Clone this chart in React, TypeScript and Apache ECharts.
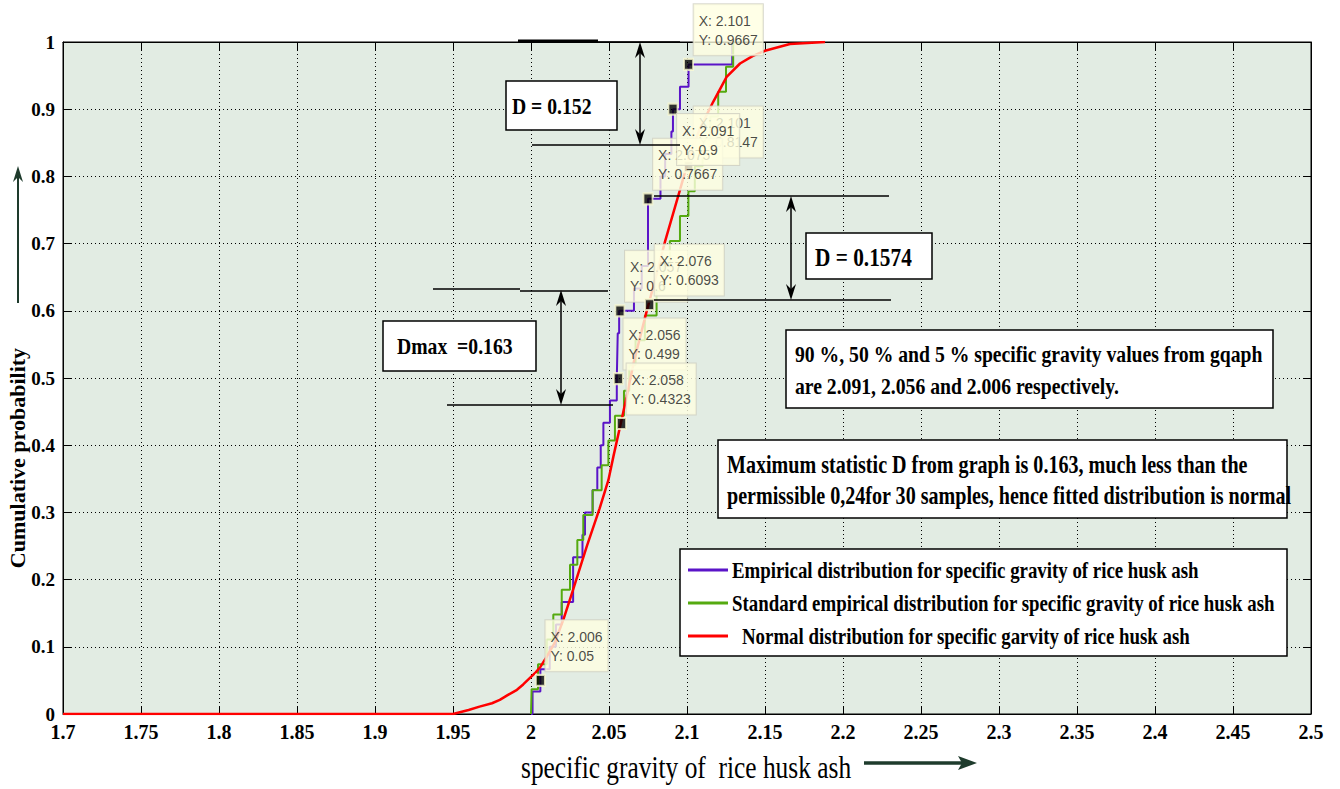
import React, { useEffect, useRef } from 'react';
import * as echarts from 'echarts';

// ---------- data ----------
const xTickLabels = ['1.7', '1.75', '1.8', '1.85', '1.9', '1.95', '2', '2.05', '2.1', '2.15', '2.2', '2.25', '2.3', '2.35', '2.4', '2.45', '2.5'];
const yTickLabels = ['0', '0.1', '0.2', '0.3', '0.4', '0.5', '0.6', '0.7', '0.8', '0.9', '1'];

const seriesNames = [
  'Empirical distribution for specific gravity of rice husk ash',
  'Standard empirical distribution for specific gravity of rice husk ash',
  'Normal distribution for specific garvity of rice husk ash',
];

// empirical CDF (30 samples)
const empiricalX = [2.0, 2.001, 2.006, 2.012, 2.016, 2.0197, 2.027, 2.027, 2.033, 2.0346, 2.0395, 2.0425, 2.0447, 2.0464, 2.0506, 2.055, 2.0553, 2.0556, 2.0565, 2.066, 2.071, 2.075, 2.075, 2.075, 2.083, 2.086, 2.09, 2.091, 2.0955, 2.101, 2.129];
const empiricalY = [0, 0.0333, 0.0667, 0.1, 0.1333, 0.1667, 0.2, 0.2333, 0.2667, 0.3, 0.3333, 0.3667, 0.4, 0.4333, 0.4667, 0.5, 0.5333, 0.5667, 0.6, 0.6333, 0.6667, 0.7, 0.7333, 0.7667, 0.8, 0.8333, 0.8667, 0.9, 0.9333, 0.9667, 1.0];

// standard empirical CDF
const standardX = [2.0, 2.0004, 2.0045, 2.01, 2.0143, 2.0197, 2.025, 2.0297, 2.0335, 2.0395, 2.0453, 2.0496, 2.0538, 2.0596, 2.063, 2.067, 2.073, 2.0805, 2.085, 2.089, 2.0955, 2.1009, 2.105, 2.11, 2.115, 2.12, 2.125, 2.1296];
const standardY = [0, 0.037, 0.074, 0.111, 0.148, 0.185, 0.222, 0.259, 0.296, 0.333, 0.37, 0.407, 0.444, 0.481, 0.519, 0.556, 0.593, 0.63, 0.667, 0.704, 0.741, 0.778, 0.815, 0.852, 0.889, 0.926, 0.963, 1.0];

// fitted normal CDF
const normalX = [1.7, 1.95, 1.96, 1.967, 1.975, 1.98, 1.985, 1.991, 1.995, 1.999, 2.003, 2.006, 2.01, 2.015, 2.0207, 2.027, 2.0357, 2.044, 2.0496, 2.0528, 2.058, 2.0613, 2.066, 2.074, 2.08, 2.0859, 2.0955, 2.101, 2.108, 2.1168, 2.1254, 2.134, 2.142, 2.15, 2.166, 2.1885];
const normalY = [0, 0, 0.006, 0.011, 0.016, 0.021, 0.028, 0.036, 0.044, 0.053, 0.062, 0.07, 0.085, 0.105, 0.14, 0.185, 0.249, 0.306, 0.348, 0.383, 0.437, 0.472, 0.525, 0.598, 0.65, 0.703, 0.78, 0.825, 0.87, 0.911, 0.948, 0.968, 0.979, 0.987, 0.997, 1.0];

// data tips (in drawing order, back to front)
const tipX = [2.101, 2.075, 2.091, 2.057, 2.076, 2.056, 2.058, 2.006, 2.101];
const tipY = [0.8147, 0.7667, 0.9, 0.6, 0.6093, 0.499, 0.4323, 0.05, 0.9667];

// ---------- styling ----------
const tipBelow = [false, false, true, false, false, false, false, false, false];
const SERIF = '"Liberation Serif", "Times New Roman", serif';
const SX = 0.82;
const PURPLE = '#5a14c8';
const GREEN = '#55aa10';
const RED = '#ff0000';

function buildOption() {
  const lineSeries = [
    {
      name: seriesNames[0], type: 'line', step: 'end', symbol: 'none', z: 3,
      data: empiricalX.map((x, i) => [x, empiricalY[i]]),
      lineStyle: { color: PURPLE, width: 2 },
    },
    {
      name: seriesNames[1], type: 'line', step: 'end', symbol: 'none', z: 4,
      data: standardX.map((x, i) => [x, standardY[i]]),
      lineStyle: { color: GREEN, width: 2 },
    },
    {
      name: seriesNames[2], type: 'line', symbol: 'none', z: 5,
      data: normalX.map((x, i) => [x, normalY[i]]),
      lineStyle: { color: RED, width: 2.5 },
    },
  ];

  const tipSeries = tipX.map((x, i) => ({
    name: 'tip' + i, type: 'scatter', z: 10 + i, silent: true,
    symbol: 'rect', symbolSize: [9, 11],
    itemStyle: { color: '#000', borderColor: '#fafad2', borderWidth: 2 },
    data: [[x, tipY[i]]],
    label: {
      show: true,
      position: tipBelow[i] ? [9.5, 11.5] : [10.5, -53.5],
      formatter: () => 'X: ' + String(x) + '\nY: ' + String(tipY[i]),
      backgroundColor: '#ffffe1', borderColor: '#cfcfc0', borderWidth: 1,
      padding: [7, 5, 6, 5], lineHeight: 19, fontSize: 14,
      fontFamily: '"Liberation Sans Narrow", "Liberation Sans", Arial, sans-serif',
      color: '#1a1a1a',
    },
  }));

  const txt = (text: string, x: number, y: number, size: number, extra: any = {}) => ({
    type: 'text', x, y, scaleX: SX, z: 62, silent: true,
    style: { text, fontFamily: SERIF, fontWeight: 'bold', fontSize: size, fill: '#000', align: 'left', verticalAlign: 'middle', ...extra },
  });
  const box = (x: number, y: number, w: number, h: number) => ({
    type: 'rect', z: 60, silent: true, shape: { x, y, width: w, height: h },
    style: { fill: '#fff', stroke: '#000', lineWidth: 1.5 },
  });
  const ln = (x1: number, y1: number, x2: number, y2: number, w = 1.5, c = '#000', z = 58) => ({
    type: 'line', z, silent: true, shape: { x1, y1, x2, y2 }, style: { stroke: c, lineWidth: w },
  });
  const headUp = (x: number, y: number, c = '#000') => ({
    type: 'polygon', z: 59, silent: true, shape: { points: [[x, y], [x - 5, y + 16], [x, y + 11], [x + 5, y + 16]] }, style: { fill: c },
  });
  const headDown = (x: number, y: number, c = '#000') => ({
    type: 'polygon', z: 59, silent: true, shape: { points: [[x, y], [x - 5, y - 16], [x, y - 11], [x + 5, y - 16]] }, style: { fill: c },
  });

  const elements: any[] = [
    // D = 0.152
    ln(518, 41, 598, 41, 3), ln(598, 42, 680, 42, 1.5), ln(532, 145, 680, 145, 1.5),
    ln(640, 50, 640, 137, 1.5), headUp(640, 42), headDown(640, 145),
    box(506, 81, 111, 49), txt('D = 0.152', 512, 106, 24),
    // D = 0.1574
    ln(654, 196, 889, 196, 1.5), ln(654, 300, 891, 300, 1.5),
    ln(791, 204, 791, 292, 1.5), headUp(791, 196), headDown(791, 300),
    box(806, 233, 126, 46), txt('D = 0.1574', 815, 257, 26),
    // Dmax = 0.163
    ln(433, 289, 520, 289, 1.5), ln(520, 291, 608, 291, 1.5), ln(447, 405, 613, 405, 1.5),
    ln(561, 298, 561, 397, 1.5), headUp(561, 290), headDown(561, 405),
    box(383, 321, 153, 50), txt('Dmax  =0.163', 397, 346, 24),
    // text notes
    box(786, 330, 487, 78),
    txt('90 %, 50 % and 5 % specific gravity values from gqaph', 795, 354, 24),
    txt('are 2.091, 2.056 and 2.006 respectively.', 795, 386, 24),
    box(718, 440, 569, 78),
    txt('Maximum statistic D from graph is 0.163, much less than the', 727, 465, 24.5),
    txt('permissible 0,24for 30 samples, hence fitted distribution is normal', 727, 496, 24.5),
    // legend
    box(680, 549, 607, 107),
    ln(688, 570, 728, 570, 3, PURPLE, 63), txt(seriesNames[0], 732, 570, 23),
    ln(688, 603, 728, 603, 3, GREEN, 63), txt(seriesNames[1], 732, 603, 23),
    ln(688, 636, 728, 636, 3, RED, 63), txt(seriesNames[2], 742, 636, 23),
    // axis titles
    {
      type: 'text', x: 17, y: 458, rotation: Math.PI / 2, z: 62, silent: true,
      style: { text: 'Cumulative probability', fontFamily: SERIF, fontWeight: 'bold', fontSize: 22, fill: '#000', align: 'center', verticalAlign: 'middle' },
    },
    ln(18, 303, 18, 176, 2, '#1e3b2c'), headUp(18, 166, '#1e3b2c'),
    {
      type: 'text', x: 521, y: 768, scaleX: SX, z: 62, silent: true,
      style: { text: 'specific gravity of  rice husk ash', fontFamily: SERIF, fontSize: 31, fill: '#000', align: 'left', verticalAlign: 'middle' },
    },
    ln(864, 763, 962, 763, 3.5, '#1e3b2c'),
    {
      type: 'polygon', z: 59, silent: true,
      shape: { points: [[977, 763], [958, 756], [962, 763], [958, 770]] }, style: { fill: '#1e3b2c' },
    },
  ];

  const gridLine = { show: true, lineStyle: { color: '#000', type: [1, 3], width: 1 } };

  return {
    animation: false,
    backgroundColor: '#ffffff',
    grid: { left: 63, right: 29, top: 42, bottom: 75, show: true, backgroundColor: '#e2ece3', borderColor: '#000', borderWidth: 1 },
    xAxis: [
      {
        type: 'value', min: 1.7, max: 2.5, interval: 0.05, position: 'bottom',
        axisLine: { onZero: false, lineStyle: { color: '#000', width: 1 } },
        axisTick: { inside: true, length: 8, lineStyle: { color: '#000' } },
        axisLabel: {
          color: '#000', fontFamily: SERIF, fontWeight: 'bold', fontSize: 20, margin: 8,
          formatter: (v: number) => xTickLabels[Math.round((v - 1.7) / 0.05)] ?? '',
        },
        splitLine: gridLine,
      },
      {
        type: 'value', min: 1.7, max: 2.5, interval: 0.05, position: 'top',
        axisLine: { onZero: false, lineStyle: { color: '#000', width: 1 } },
        axisTick: { inside: true, length: 8, lineStyle: { color: '#000' } },
        axisLabel: { show: false }, splitLine: { show: false },
      },
    ],
    yAxis: [
      {
        type: 'value', min: 0, max: 1, interval: 0.1, position: 'left',
        axisLine: { onZero: false, show: true, lineStyle: { color: '#000', width: 1 } },
        axisTick: { show: true, inside: true, length: 8, lineStyle: { color: '#000' } },
        axisLabel: {
          color: '#000', fontFamily: SERIF, fontWeight: 'bold', fontSize: 19, margin: 8,
          formatter: (v: number) => yTickLabels[Math.round(v / 0.1)] ?? '',
        },
        splitLine: gridLine,
      },
      {
        type: 'value', min: 0, max: 1, interval: 0.1, position: 'right',
        axisLine: { onZero: false, show: true, lineStyle: { color: '#000', width: 1 } },
        axisTick: { show: true, inside: true, length: 8, lineStyle: { color: '#000' } },
        axisLabel: { show: false }, splitLine: { show: false },
      },
    ],
    legend: { show: false },
    series: [...lineSeries, ...tipSeries],
    graphic: { elements },
  };
}

export default function App() {
  const ref = useRef<HTMLDivElement>(null);
  useEffect(() => {
    if (!ref.current) return;
    const chart = echarts.init(ref.current, undefined, { renderer: 'svg' });
    chart.setOption(buildOption() as any);
    return () => chart.dispose();
  }, []);
  return (
    <div style={{ position: 'fixed', left: 0, top: 0, width: 1340, height: 789, background: '#fff' }}>
      <div ref={ref} style={{ width: 1340, height: 789 }} />
    </div>
  );
}
